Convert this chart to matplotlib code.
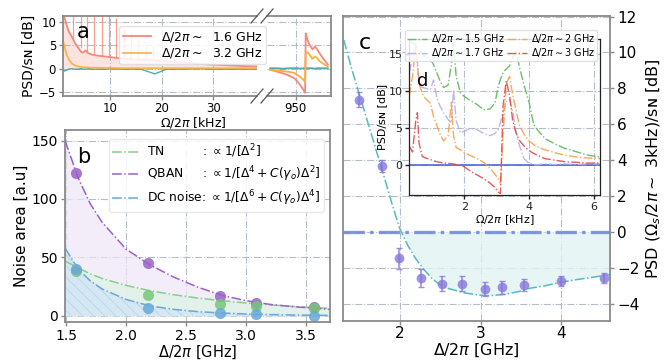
import matplotlib
matplotlib.use("Agg")
import matplotlib.pyplot as plt
from matplotlib.lines import Line2D

plt.rcParams['font.family'] = ['DejaVu Sans']
plt.rcParams['mathtext.fontset'] = 'dejavusans'
plt.rcParams['hatch.linewidth'] = 0.6

# ---------------- panel a data ----------------
a_left_x = [0.9, 1.2, 1.6, 2.0, 2.6, 3.2, 3.9, 4.4, 4.8, 5.3, 5.8, 6.5, 7.5, 9.0, 10.5,
            12.3, 14.0, 16.0, 18.7, 21.0, 24.0, 27.0, 30.0, 33.0, 36.0, 38.5]
a_salmon_left = [12.0, 10.8, 9.3, 8.0, 6.8, 5.5, 4.4, 3.6, 3.4, 3.9, 3.3, 3.0, 2.8, 2.6, 2.4,
                 2.2, 2.0, 1.9, 1.8, 1.55, 1.3, 1.05, 0.85, 0.7, 0.55, 0.5]
a_orange_left = [6.0, 4.6, 3.0, 2.0, 1.1, 0.7, 0.45, 0.35, 0.3, 0.3, 0.25, 0.2, 0.2, 0.15, 0.15,
                 0.1, 0.1, 0.1, 0.1, 0.1, 0.1, 0.1, 0.1, 0.1, 0.1, 0.1]
a_teal_left = [-0.2, -0.5, -0.3, -0.1, 0.0, -0.1, -0.1, 0.0, -0.1, -0.1, 0.0, -0.1, -0.1, -0.1, 0.0,
               -0.1, -0.1, -0.1, -1.1, -0.1, -0.1, 0.0, -0.1, -0.1, -0.1, -0.1]
a_spike_x = [2.9, 4.3, 5.6, 7.0, 8.4, 9.8, 11.2, 12.7, 14.1, 15.5, 16.9, 18.3, 19.7, 21.1, 22.5]
a_spike_top = [11.5, 11.5, 11.5, 11.5, 11.5, 11.5, 10.8, 8.6, 7.9, 6.1, 5.0, 4.7, 3.6, 3.0, 2.6]
a_spike_base = [6.0, 4.4, 3.4, 3.0, 2.7, 2.5, 2.3, 2.2, 2.0, 1.95, 1.9, 1.85, 1.75, 1.6, 1.5]

a_right_x = [942, 944, 946, 948, 949.5, 950.5, 951.5, 952.3, 952.9, 953.1, 953.6, 954.2,
             955.2, 956.0, 956.6, 957.4, 958.5, 960]
a_salmon_right = [-0.25, -0.6, -1.0, -1.5, -2.0, -2.7, -3.6, -4.4, -5.1, 7.5, 6.2, 5.2,
                  4.1, 4.7, 4.2, 3.3, 2.2, 0.9]
a_orange_right = [-0.2, -0.4, -0.5, -0.7, -0.9, -1.3, -1.8, -2.3, -2.8, 3.3, 3.5, 3.1,
                  2.1, 2.6, 2.3, 1.6, 1.1, 0.5]
a_teal_right = [0.1, 0.1, 0.0, 0.1, 0.1, 0.1, 0.0, 0.1, 0.1, 0.1, 0.1, 0.1,
                0.1, 0.0, 0.1, 0.1, 0.1, 0.1]
a_labels = [r'$\Delta/2\pi\sim$  1.6 GHz', r'$\Delta/2\pi\sim$  3.2 GHz']

# ---------------- panel b data ----------------
b_x = [1.58, 2.18, 2.78, 3.08, 3.57]
b_qban = [122, 45, 17, 10.6, 7.2]
b_tn = [38.4, 17.8, 9.8, 8.3, 6.3]
b_dc = [40, 6.3, 2.6, 1.2, 0.0]
b_fit_x = [1.49, 1.6, 1.7, 1.8, 2.0, 2.2, 2.4, 2.6, 2.8, 3.0, 3.2, 3.4, 3.7]
b_qban_fit = [150, 118, 96, 80, 57, 43.5, 33, 24.5, 17.5, 13, 9.8, 7.8, 5.5]
b_tn_fit = [47, 41, 36, 32, 26, 21.5, 18, 15.2, 13, 11, 9.4, 8.0, 6.4]
b_dc_fit = [58, 40, 30, 23, 14, 8.5, 5.5, 3.6, 2.4, 1.6, 1.1, 0.7, 0.4]
b_labels = [r'TN          : $\propto 1/[\Delta^2]$',
            r'QBAN     : $\propto 1/[\Delta^4+C(\gamma_o)\Delta^2]$',
            r'DC noise: $\propto 1/[\Delta^6+C(\gamma_o)\Delta^4]$']

# ---------------- panel c data ----------------
c_x = [1.5, 1.78, 1.99, 2.27, 2.52, 2.77, 3.05, 3.26, 3.54, 4.0, 4.53]
c_y = [7.37, 3.67, -1.48, -2.59, -2.9, -2.9, -3.18, -3.09, -2.96, -2.74, -2.59]
c_err = [0.42, 0.32, 0.58, 0.5, 0.42, 0.42, 0.37, 0.36, 0.31, 0.3, 0.28]
c_fit_x = [1.31, 1.4, 1.5, 1.6, 1.7, 1.8, 1.9, 2.0, 2.1, 2.2, 2.3, 2.4, 2.5, 2.6, 2.8,
           3.0, 3.1, 3.3, 3.5, 3.6, 3.8, 4.0, 4.2, 4.4, 4.6]
c_fit_y = [10.7, 9.2, 7.7, 6.2, 4.7, 3.2, 1.65, 0.2, -0.75, -1.5, -2.1, -2.6, -2.95, -3.15, -3.4,
           -3.53, -3.56, -3.48, -3.3, -3.15, -3.0, -2.8, -2.65, -2.52, -2.38]
c_sn_x = [1.3, 4.6]
c_sn_y = [0.0, 0.0]

# ---------------- panel d (inset) data ----------------
d_x = [0.3, 0.4, 0.5, 0.55, 0.6, 0.7, 0.8, 0.95, 1.05, 1.15, 1.25, 1.36, 1.5, 1.6, 1.67, 1.75,
       1.88, 2.0, 2.2, 2.4, 2.6, 2.8, 2.95, 3.05, 3.12, 3.2, 3.3, 3.4, 3.5, 3.6, 3.7, 3.85, 4.0,
       4.15, 4.3, 4.5, 4.8, 5.1, 5.5, 5.8, 6.2]
d_g15 = [17.0, 16.5, 16.2, 15.9, 15.6, 15.0, 14.6, 14.3, 13.6, 12.5, 11.4, 10.5, 10.8, 13.5, 16.5, 12.0,
         9.8, 9.3, 8.7, 8.2, 7.5, 7.6, 8.4, 10.6, 11.6, 12.5, 13.0, 13.4, 14.6, 15.4, 13.4, 10.8, 8.6,
         5.5, 4.6, 3.6, 2.9, 2.3, 1.8, 1.4, 1.1]
d_p17 = [12.5, 14.5, 16.5, 14.0, 11.0, 10.5, 10.4, 10.2, 11.5, 9.2, 8.0, 7.1, 6.2, 5.7, 10.2, 6.0,
         4.4, 4.6, 5.0, 4.8, 4.3, 4.0, 4.3, 4.8, 5.8, 7.2, 8.6, 8.9, 7.2, 4.6, 2.8, 0.9, 0.3,
         0.1, 0.1, 0.2, 0.1, 0.2, 0.1, 0.2, 0.2]
d_o2 = [9.3, 12.0, 16.1, 13.5, 11.1, 9.7, 9.0, 8.4, 6.6, 5.4, 4.2, 3.3, 4.0, 8.5, 4.0, 2.4,
        2.1, 1.7, 1.3, 0.9, 0.4, -0.4, -1.2, -1.8, -2.4, 4.0, 11.0, 12.0, 9.5, 7.5, 5.5, 4.2, 3.3,
        2.8, 2.4, 2.1, 1.7, 1.4, 1.1, 1.0, 0.9]
d_r3 = [2.6, 1.8, 6.0, 7.1, 3.0, 1.2, 1.0, 0.8, 0.6, 0.5, 0.4, 0.3, 0.3, 0.2, 0.2, 0.1,
        0.0, -0.2, -0.8, -1.3, -1.8, -2.4, -3.0, -3.6, -3.8, 8.0, 11.4, 9.5, 6.0, 4.4, 3.4, 2.6, 2.0,
        1.6, 1.3, 0.9, 0.7, 0.5, 0.4, 0.3, 0.3]
d_sn = [0.0] * 41
d_labels = [r'$\Delta/2\pi\sim$1.5 GHz', r'$\Delta/2\pi\sim$1.7 GHz',
            r'$\Delta/2\pi\sim$2 GHz', r'$\Delta/2\pi\sim$3 GHz']

# ---------------- figure ----------------
W, H = 664, 360
fig = plt.figure(figsize=(W / 100, H / 100), dpi=100)


def box(x0, y0, x1, y1):
    return [x0 / W, 1 - y1 / H, (x1 - x0) / W, (y1 - y0) / H]


SPINE = '#8a8a8a'
GRID = dict(color='#b5bdc9', linestyle='-.', linewidth=0.8)


def style(ax, fs, spine=SPINE, lw=1.3):
    for s in ax.spines.values():
        s.set_color(spine)
        s.set_linewidth(lw)
    ax.tick_params(colors=spine, labelcolor='black', labelsize=fs, length=3, width=1, pad=2)
    ax.grid(True, **GRID)
    ax.set_axisbelow(True)


SALMON = '#f9877a'
ORANGE = '#f6b13f'
TEAL = '#3fa3a0'

# ---- panel a ----
aL = fig.add_axes(box(63, 16, 257, 96))
aR = fig.add_axes(box(267, 16, 331, 96))
for ax in (aL, aR):
    style(ax, 8.5)
    ax.tick_params(axis='x', pad=1)
    ax.set_ylim(-5.8, 11.2)
    ax.set_yticks([-5, 0, 5, 10])
aL.set_xlim(0.9, 38.5)
aL.set_xticks([10, 20, 30])
aR.set_xlim(941, 961)
aR.set_xticks([950])
aL.spines['right'].set_visible(False)
aR.spines['left'].set_visible(False)
aR.tick_params(left=False, labelleft=False)

aL.fill_between(a_left_x, 0, a_salmon_left, color=SALMON, alpha=0.22, lw=0)
aL.vlines(a_spike_x, a_spike_base, a_spike_top, color=SALMON, lw=0.9, alpha=0.8)
aL.plot(a_left_x, a_teal_left, color=TEAL, lw=1.0, alpha=0.9)
aL.plot(a_left_x, a_salmon_left, color=SALMON, lw=1.3, label=a_labels[0])
aL.plot(a_left_x, a_orange_left, color=ORANGE, lw=1.3, alpha=0.9, label=a_labels[1])
aR.plot(a_right_x, a_teal_right, color=TEAL, lw=1.3, alpha=0.9)
aR.plot(a_right_x, a_salmon_right, color=SALMON, lw=1.3)
aR.plot(a_right_x, a_orange_right, color=ORANGE, lw=1.3)
leg = aL.legend(loc='upper right', bbox_to_anchor=(1.08, 0.95), fontsize=9, framealpha=0.85,
                edgecolor='#dddddd', handlelength=2.2, borderpad=0.3, labelspacing=0.2,
                handletextpad=0.8)
aL.set_ylabel('PSD/sɴ [dB]', fontsize=10, labelpad=2)
fig.text(193 / W, 1 - 122 / H, r'$\Omega/2\pi$ [kHz]', fontsize=9, ha='center', va='center')
aL.text(0.07, 0.72, 'a', transform=aL.transAxes, fontsize=15)

# break marks
for (cx, cy) in [(257, 16), (267, 16), (257, 96), (267, 96)]:
    fig.add_artist(Line2D([(cx - 6) / W, (cx + 6) / W], [1 - (cy + 7) / H, 1 - (cy - 7) / H],
                          transform=fig.transFigure, color='#555555', lw=0.9))

# ---- panel b ----
PURPLE = '#9a62c8'
GREEN = '#86d086'
BLUE = '#69a8d8'
b = fig.add_axes(box(65, 130, 330, 321.7))
style(b, 10)
b.set_xlim(1.49, 3.7)
b.set_ylim(-5, 159)
b.set_xticks([1.5, 2.0, 2.5, 3.0, 3.5])
b.set_yticks([0, 50, 100, 150])
b.fill_between(b_fit_x, 0, b_qban_fit, color='#ede6f6', alpha=0.7, lw=0)
b.fill_between(b_fit_x, 0, b_tn_fit, color='#dff3e6', alpha=0.8, lw=0)
b.fill_between(b_fit_x, 0, b_dc_fit, facecolor='#d3e6f4', edgecolor='#b8d3ea', hatch='\\\\\\',
               alpha=0.9, lw=0)
b.plot(b_fit_x, b_tn_fit, '-.', color=GREEN, lw=1.1, label=b_labels[0])
b.plot(b_fit_x, b_qban_fit, '-.', color=PURPLE, lw=1.1, label=b_labels[1])
b.plot(b_fit_x, b_dc_fit, '-.', color=BLUE, lw=1.1, label=b_labels[2])
b.plot(b_x, b_qban, 'o', color=PURPLE, ms=8, alpha=0.85, mec='none')
b.plot(b_x, b_tn, 'o', color='#76c776', ms=8, alpha=0.85, mec='none')
b.plot(b_x, b_dc, 'o', color=BLUE, ms=8, alpha=0.85, mec='none')
b.legend(loc='upper right', bbox_to_anchor=(1.0, 0.985), fontsize=8.8, framealpha=0.85,
         edgecolor='#e6e6e6', handlelength=2.2, borderpad=0.3, labelspacing=0.35,
         handletextpad=0.6)
b.set_ylabel('Noise area [a.u]', fontsize=11, labelpad=2)
b.set_xlabel(r'$\Delta/2\pi$ [GHz]', fontsize=10.5, labelpad=1)
b.text(0.045, 0.83, 'b', transform=b.transAxes, fontsize=15, zorder=10)

# ---- panel c ----
c = fig.add_axes(box(343, 15.7, 610, 320.7))
style(c, 10)
c.set_xlim(1.3, 4.6)
c.set_ylim(-4.95, 12.05)
c.set_xticks([2, 3, 4])
c.set_yticks([-4, -2, 0, 2, 4, 6, 8, 10, 12])
c.yaxis.tick_right()
c.yaxis.set_label_position('right')
c.tick_params(axis='y', labelsize=11)
c.tick_params(axis='x', labelsize=11, pad=1)
c.fill_between(c_fit_x, 0, c_fit_y, where=[v <= 0.2 for v in c_fit_y], color='#e2f3f3',
               alpha=0.8, lw=0, interpolate=True)
c.plot(c_sn_x, c_sn_y, '-.', color='#6f84dd', lw=2.4, alpha=0.85)
c.plot(c_fit_x, c_fit_y, '-.', color='#55bcbc', lw=1.1)
c.errorbar(c_x, c_y, yerr=c_err, fmt='o', color='#8576dc', ms=7, alpha=0.8, mec='none',
           elinewidth=1.2, capsize=2)
c.set_ylabel(r'PSD ($\Omega_s/2\pi\sim$ 3kHz)/sɴ [dB]', fontsize=11.5, labelpad=4)
c.set_xlabel(r'$\Delta/2\pi$ [GHz]', fontsize=11.5, labelpad=0)
c.text(0.06, 0.89, 'c', transform=c.transAxes, fontsize=16)

# ---- inset d ----
d = fig.add_axes(box(409.3, 39.3, 600, 195))
style(d, 8, spine='#222222', lw=0.9)
d.tick_params(colors='#222222')
d.set_xlim(0.3, 6.2)
d.set_ylim(-4, 17)
d.set_xticks([2, 4, 6])
d.set_yticks([0, 5, 10, 15])
d.plot(d_x, d_sn, '-', color='#3d5fe0', lw=1.3, alpha=0.85)
d.plot(d_x, d_g15, '-.', color='#5cb85c', lw=1.0, alpha=0.9, label=d_labels[0])
d.plot(d_x, d_p17, '-.', color='#b7aee6', lw=1.0, alpha=0.9, label=d_labels[1])
d.plot(d_x, d_o2, '-.', color='#f7a04a', lw=1.0, alpha=0.9, label=d_labels[2])
d.plot(d_x, d_r3, '-.', color='#e04a4a', lw=1.0, alpha=0.9, label=d_labels[3])
d.legend(loc='upper right', bbox_to_anchor=(1.01, 1.09), ncol=2, fontsize=7, framealpha=0.85,
         edgecolor='#dddddd', handlelength=2.0, borderpad=0.2, labelspacing=0.1,
         columnspacing=0.3, handletextpad=0.4)
d.set_ylabel('PSD/sɴ [dB]', fontsize=8, labelpad=1)
d.set_xlabel(r'$\Omega/2\pi$ [kHz]', fontsize=8, labelpad=1)
d.text(0.04, 0.7, 'd', transform=d.transAxes, fontsize=13)

fig.savefig('out.png', dpi=100)
